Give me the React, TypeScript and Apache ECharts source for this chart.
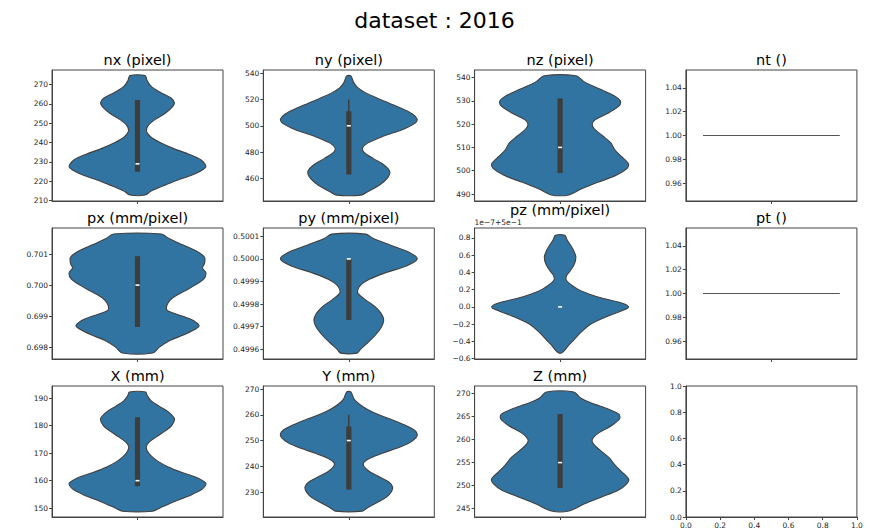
import React, { useEffect, useRef } from 'react';
import * as echarts from 'echarts';

// ---- data ----
const suptitle = 'dataset : 2016';

// violin profiles: [value, relative half-width]
const nxProfile = [[212.9, 0.11], [215, 0.2], [218, 0.4], [221, 0.62], [224, 0.85], [227.5, 1.0], [231, 0.93], [234, 0.75], [237, 0.52], [240, 0.33], [243, 0.19], [246, 0.13], [249, 0.16], [252, 0.26], [255, 0.4], [258, 0.5], [260.5, 0.54], [263, 0.49], [266, 0.33], [269, 0.2], [272, 0.14], [274.6, 0.11]];
const nyProfile = [[447.3, 0.18], [450, 0.28], [455, 0.45], [460, 0.56], [465, 0.6], [470, 0.52], [475, 0.36], [480, 0.22], [483, 0.2], [487, 0.28], [492, 0.5], [497, 0.78], [502, 0.97], [505, 1.0], [509, 0.93], [513, 0.78], [517, 0.6], [521, 0.42], [525, 0.25], [529, 0.13], [533, 0.07], [537.9, 0.03]];
const nzProfile = [[489.6, 0.13], [492, 0.3], [495, 0.55], [498, 0.82], [501, 0.98], [503, 1.0], [506, 0.9], [509, 0.8], [512, 0.74], [515, 0.62], [518, 0.5], [520, 0.47], [522, 0.52], [525, 0.72], [528, 0.87], [530, 0.88], [532, 0.8], [535, 0.58], [538, 0.36], [540.7, 0.23]];
const pxProfile = [[0.69781, 0.22], [0.698, 0.32], [0.6982, 0.46], [0.6984, 0.68], [0.6986, 0.86], [0.6987, 0.9], [0.6989, 0.78], [0.6991, 0.52], [0.6992, 0.43], [0.6994, 0.44], [0.6996, 0.52], [0.6998, 0.68], [0.7, 0.84], [0.7002, 0.97], [0.7004, 1.0], [0.70055, 0.95], [0.7007, 0.98], [0.7009, 0.98], [0.7011, 0.86], [0.7013, 0.66], [0.7015, 0.46], [0.70165, 0.35]];
const pyProfile = [[0.499583, 0.12], [0.4996, 0.17], [0.49963, 0.28], [0.49966, 0.38], [0.4997, 0.48], [0.49973, 0.51], [0.49976, 0.47], [0.49979, 0.38], [0.49982, 0.24], [0.49985, 0.13], [0.49988, 0.16], [0.49991, 0.3], [0.49994, 0.55], [0.49997, 0.85], [0.5, 1.0], [0.50003, 0.88], [0.50006, 0.62], [0.50009, 0.36], [0.50011, 0.25]];
// pz in units of 1e-7 around 0.5
const pzProfile = [[-0.535, 0.02], [-0.5, 0.07], [-0.45, 0.12], [-0.4, 0.18], [-0.3, 0.3], [-0.2, 0.45], [-0.1, 0.72], [-0.03, 0.95], [0.0, 1.0], [0.04, 0.92], [0.1, 0.62], [0.15, 0.42], [0.2, 0.27], [0.25, 0.17], [0.3, 0.1], [0.33, 0.085], [0.37, 0.1], [0.42, 0.15], [0.5, 0.21], [0.58, 0.23], [0.65, 0.2], [0.72, 0.15], [0.78, 0.1], [0.83, 0.07]];
const XProfile = [[148.9, 0.22], [150, 0.32], [152, 0.5], [155, 0.8], [157, 0.95], [159, 1.0], [161, 0.88], [163, 0.65], [165, 0.45], [167, 0.3], [169, 0.2], [171, 0.14], [172.5, 0.13], [174, 0.17], [176, 0.28], [178, 0.4], [180, 0.5], [182.5, 0.54], [185, 0.45], [187, 0.32], [189, 0.2], [191, 0.14], [192.2, 0.12]];
const YProfile = [[222.6, 0.2], [224, 0.28], [226, 0.42], [228, 0.55], [230, 0.62], [232, 0.64], [234, 0.58], [236, 0.44], [238, 0.3], [240, 0.22], [241.5, 0.22], [243, 0.3], [245, 0.48], [247, 0.7], [249, 0.88], [251, 0.98], [252.5, 1.0], [254, 0.96], [256, 0.82], [258, 0.64], [260, 0.44], [262, 0.28], [264, 0.16], [266, 0.08], [268.9, 0.03]];
const ZProfile = [[244.5, 0.13], [246, 0.35], [247.5, 0.6], [249, 0.85], [250.5, 0.98], [251.5, 1.0], [253, 0.9], [254.5, 0.8], [256, 0.72], [257.5, 0.6], [259, 0.49], [260, 0.47], [261.5, 0.57], [263, 0.75], [264.5, 0.87], [265.5, 0.86], [266.5, 0.72], [268, 0.44], [269, 0.3], [270.3, 0.2]];

// inner box stats: [whiskerLow, q1, median, q3, whiskerHigh]
const nxStats = [225, 225, 229, 262, 262];
const nyStats = [463, 463, 500, 511, 520];
const nzStats = [499, 499, 510, 531, 531];
const pxStats = [0.69865, 0.69865, 0.7, 0.70093, 0.70093];
const pyStats = [0.49973, 0.49973, 0.5, 0.5, 0.5];
const pzStats = [0, 0, 0, 0, 0];
const XStats = [158, 158, 160, 183, 183];
const YStats = [231, 231, 250, 255.5, 260];
const ZStats = [249.5, 249.5, 255, 265.5, 265.5];

const ntValues = [1];
const ptValues = [1];

// tick labels
const nxTicks = [210, 220, 230, 240, 250, 260, 270];
const nyTicks = [460, 480, 500, 520, 540];
const nzTicks = [490, 500, 510, 520, 530, 540];
const flatTicks = [0.96, 0.98, 1.0, 1.02, 1.04];
const pxTicks = [0.698, 0.699, 0.7, 0.701];
const pyTicks = [0.4996, 0.4997, 0.4998, 0.4999, 0.5, 0.5001];
const pzTicks = [-0.6, -0.4, -0.2, 0.0, 0.2, 0.4, 0.6, 0.8];
const XTicks = [150, 160, 170, 180, 190];
const YTicks = [230, 240, 250, 260, 270];
const ZTicks = [245, 250, 255, 260, 265, 270];
const emptyTicks = [0, 0.2, 0.4, 0.6, 0.8, 1.0];

// ---- styling / layout ----
const FILL = '#3274a1';
const EDGE = '#404040';
const BOXC = '#3d3d3d';
const FONT = 'DejaVu Sans';
const HALF = 0.4;
const LEFT0 = 52, COLSTEP = 211.3, PW = 171;
const TOP0 = 70, ROWSTEP = 158, PH = 131;

type Panel = {
  title: string; kind: 'violin' | 'flat' | 'empty';
  profile?: number[][]; stats?: number[]; values?: number[];
  yMin: number; yMax: number; ticks: number[]; dec: number; titleDy?: number;
};

const panels: Panel[] = [
  { title: 'nx (pixel)', kind: 'violin', profile: nxProfile, stats: nxStats, yMin: 209.8, yMax: 277.5, ticks: nxTicks, dec: 0 },
  { title: 'ny (pixel)', kind: 'violin', profile: nyProfile, stats: nyStats, yMin: 442.8, yMax: 542.4, ticks: nyTicks, dec: 0 },
  { title: 'nz (pixel)', kind: 'violin', profile: nzProfile, stats: nzStats, yMin: 487.0, yMax: 543.2, ticks: nzTicks, dec: 0 },
  { title: 'nt ()', kind: 'flat', values: ntValues, yMin: 0.945, yMax: 1.055, ticks: flatTicks, dec: 2 },
  { title: 'px (mm/pixel)', kind: 'violin', profile: pxProfile, stats: pxStats, yMin: 0.697618, yMax: 0.701842, ticks: pxTicks, dec: 3 },
  { title: 'py (mm/pixel)', kind: 'violin', profile: pyProfile, stats: pyStats, yMin: 0.499557, yMax: 0.500137, ticks: pyTicks, dec: 4 },
  { title: 'pz (mm/pixel)', kind: 'violin', profile: pzProfile, stats: pzStats, yMin: -0.605, yMax: 0.915, ticks: pzTicks, dec: 1, titleDy: -8 },
  { title: 'pt ()', kind: 'flat', values: ptValues, yMin: 0.945, yMax: 1.055, ticks: flatTicks, dec: 2 },
  { title: 'X (mm)', kind: 'violin', profile: XProfile, stats: XStats, yMin: 146.8, yMax: 194.4, ticks: XTicks, dec: 0 },
  { title: 'Y (mm)', kind: 'violin', profile: YProfile, stats: YStats, yMin: 220.3, yMax: 271.2, ticks: YTicks, dec: 0 },
  { title: 'Z (mm)', kind: 'violin', profile: ZProfile, stats: ZStats, yMin: 243.2, yMax: 271.6, ticks: ZTicks, dec: 0 },
  { title: '', kind: 'empty', yMin: 0, yMax: 1, ticks: emptyTicks, dec: 1 },
];

const fmt = (v: number, dec: number) => v.toFixed(dec).replace('-', '\u2212');

function buildOption() {
  const grid: any[] = [];
  const xAxis: any[] = [];
  const yAxis: any[] = [];
  const series: any[] = [];
  const graphic: any[] = [
    { type: 'text', x: 434.5, y: 20, style: { text: suptitle, font: `22px "${FONT}"`, fill: '#000', align: 'center', verticalAlign: 'middle' } },
  ];

  panels.forEach((p, i) => {
    const row = Math.floor(i / 4), col = i % 4;
    const left = LEFT0 + col * COLSTEP;
    const top = TOP0 + row * ROWSTEP;
    grid.push({ left, top, width: PW, height: PH, show: true, borderColor: '#444', borderWidth: 1, backgroundColor: '#fff' });
    const isEmpty = p.kind === 'empty';
    xAxis.push({
      type: 'value', gridIndex: i, min: isEmpty ? 0 : -0.5, max: isEmpty ? 1 : 0.5,
      splitLine: { show: false },
      axisLine: { show: true, onZero: false, lineStyle: { color: '#444', width: 1 } },
      axisTick: { show: true, customValues: isEmpty ? emptyTicks : [0], length: 3, lineStyle: { color: '#444' } },
      axisLabel: {
        show: isEmpty, customValues: emptyTicks, formatter: (v: number) => fmt(v, 1),
        fontSize: 7.5, fontFamily: FONT, color: '#262626', margin: 4,
      },
    });
    yAxis.push({
      type: 'value', gridIndex: i, min: p.yMin, max: p.yMax,
      splitLine: { show: false },
      axisLine: { show: true, onZero: false, lineStyle: { color: '#444', width: 1 } },
      axisTick: { show: true, customValues: p.ticks, length: 3, lineStyle: { color: '#444' } },
      axisLabel: {
        customValues: p.ticks, formatter: (v: number) => fmt(v, p.dec),
        fontSize: 7.5, fontFamily: FONT, color: '#262626', margin: 4,
      },
    });
    if (p.title) {
      graphic.push({
        type: 'text', x: left + PW / 2, y: top - 10 + (p.titleDy || 0),
        style: { text: p.title, font: `14.5px "${FONT}"`, fill: '#000', align: 'center', verticalAlign: 'middle' },
      });
    }
    if (p.title.startsWith('pz')) {
      graphic.push({
        type: 'text', x: left, y: top - 6,
        style: { text: '1e\u22127+5e\u22121', font: `7.5px "${FONT}"`, fill: '#262626', align: 'left', verticalAlign: 'middle' },
      });
    }

    if (p.kind === 'violin') {
      const profile = p.profile!;
      const stats = p.stats!;
      series.push({
        type: 'custom', xAxisIndex: i, yAxisIndex: i, silent: true,
        data: [[0, stats[2]]],
        renderItem: (_params: any, api: any) => {
          const right = profile.map(([y, w]) => api.coord([w * HALF, y]));
          const leftSide = profile.slice().reverse().map(([y, w]) => api.coord([-w * HALF, y]));
          const pts = right.concat(leftSide);
          const [lo, q1, med, q3, hi] = stats;
          const pLo = api.coord([0, lo]);
          const pHi = api.coord([0, hi]);
          const pQ1 = api.coord([0, q1]);
          const pQ3 = api.coord([0, q3]);
          const pMed = api.coord([0, med]);
          const children: any[] = [
            { type: 'polygon', shape: { points: pts, smooth: 0.3 }, style: { fill: FILL, stroke: EDGE, lineWidth: 1.1 } },
          ];
          if (hi > lo) {
            children.push({ type: 'line', shape: { x1: pLo[0], y1: pLo[1], x2: pHi[0], y2: pHi[1] }, style: { stroke: BOXC, lineWidth: 1.5 } });
          }
          if (q3 > q1) {
            children.push({ type: 'rect', shape: { x: pQ1[0] - 2.6, y: pQ3[1], width: 5.2, height: pQ1[1] - pQ3[1] }, style: { fill: BOXC } });
          }
          children.push({ type: 'rect', shape: { x: pMed[0] - 2, y: pMed[1] - 0.8, width: 4, height: 1.6 }, style: { fill: '#ffffff' } });
          return { type: 'group', children };
        },
      });
    } else if (p.kind === 'flat') {
      const v = p.values![0];
      series.push({
        type: 'line', xAxisIndex: i, yAxisIndex: i, silent: true, showSymbol: false, symbol: 'none',
        data: [[-HALF, v], [HALF, v]],
        lineStyle: { color: '#555', width: 1.1 },
      });
    }
  });

  return {
    animation: false,
    backgroundColor: '#fff',
    grid, xAxis, yAxis, series, graphic,
  };
}

export default function App() {
  const ref = useRef<HTMLDivElement>(null);
  useEffect(() => {
    if (!ref.current) return;
    const chart = echarts.init(ref.current, undefined, { renderer: 'svg' });
    chart.setOption(buildOption() as any);
    return () => chart.dispose();
  }, []);
  return <div ref={ref} style={{ position: 'fixed', left: 0, top: 0, width: 869, height: 530, background: '#fff' }} />;
}
